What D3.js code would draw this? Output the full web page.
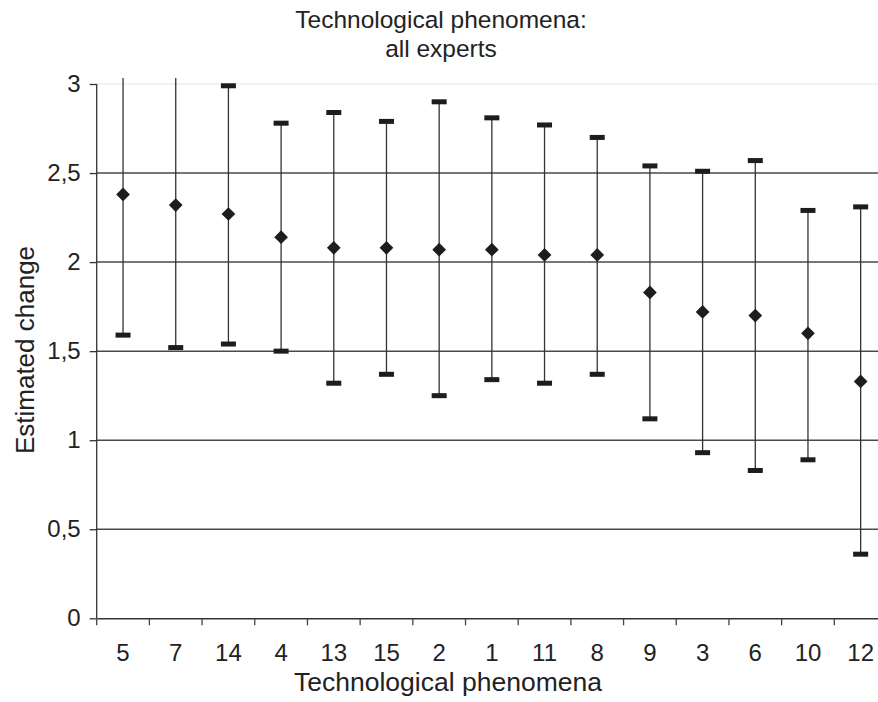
<!DOCTYPE html>
<html>
<head>
<meta charset="utf-8">
<script src="https://cdn.jsdelivr.net/npm/d3@7"></script>
<style>
  html, body { margin: 0; padding: 0; background: #fff; }
  svg { display: block; font-family: "Liberation Sans", Arial, sans-serif; }
</style>
</head>
<body>
<svg id="chart" width="878" height="702"></svg>
<script>
// Technological phenomena, ordered by mean estimated change
const categories = ["5", "7", "14", "4", "13", "15", "2", "1", "11", "8", "9", "3", "6", "10", "12"];
const meanValues  = [2.38, 2.32, 2.27, 2.14, 2.08, 2.08, 2.07, 2.07, 2.04, 2.04, 1.83, 1.72, 1.70, 1.60, 1.33];
const upperValues = [3.15, 3.15, 2.99, 2.78, 2.84, 2.79, 2.90, 2.81, 2.77, 2.70, 2.54, 2.51, 2.57, 2.29, 2.31];
const lowerValues = [1.59, 1.52, 1.54, 1.50, 1.32, 1.37, 1.25, 1.34, 1.32, 1.37, 1.12, 0.93, 0.83, 0.89, 0.36];
const yTickValues = [0, 0.5, 1, 1.5, 2, 2.5, 3];

const svg = d3.select("#chart");
const plotLeft = 96.7, plotRight = 887, plotTop = 84, plotBottom = 618.3;

const x = d3.scaleBand().domain(categories).range([plotLeft, plotRight]).padding(0);
const y = d3.scaleLinear().domain([0, 3]).range([plotBottom, plotTop]);
const fmt = v => String(v).replace(".", ",");

// Horizontal gridlines
svg.append("g").selectAll("line")
  .data(yTickValues.filter(v => v > 0))
  .join("line")
  .attr("x1", plotLeft).attr("x2", plotRight)
  .attr("y1", d => y(d)).attr("y2", d => y(d))
  .attr("stroke", d => d === 3 ? "#eeeeee" : "#4a4a4a")
  .attr("stroke-width", 1.5);

// Y axis
const yAxis = svg.append("g")
  .attr("transform", `translate(${plotLeft},0)`)
  .call(d3.axisLeft(y).tickValues(yTickValues).tickFormat(fmt).tickSize(7).tickPadding(9));
yAxis.select(".domain").attr("stroke", "#333").attr("stroke-width", 1.3).attr("d", `M0,${plotTop}V${plotBottom}`);
yAxis.selectAll(".tick line").attr("stroke", "#333").attr("stroke-width", 1.3);
yAxis.selectAll(".tick text").attr("font-size", 24).attr("fill", "#222")
  .attr("font-family", "Liberation Sans, Arial, sans-serif");

// X axis with ticks between categories
const xAxis = svg.append("g")
  .attr("transform", `translate(0,${plotBottom})`)
  .call(d3.axisBottom(x).tickSize(0).tickPadding(26));
xAxis.select(".domain").attr("stroke", "#333").attr("stroke-width", 1.5);
xAxis.selectAll(".tick text").attr("font-size", 24).attr("fill", "#222")
  .attr("font-family", "Liberation Sans, Arial, sans-serif");
svg.append("g").selectAll("line")
  .data(categories)
  .join("line")
  .attr("x1", d => x(d)).attr("x2", d => x(d))
  .attr("y1", plotBottom).attr("y2", plotBottom + 7)
  .attr("stroke", "#444").attr("stroke-width", 1.3);

// Error bars and means, clipped to the plot region
svg.append("clipPath").attr("id", "plotclip")
  .append("rect").attr("x", plotLeft).attr("y", 78).attr("width", plotRight - plotLeft).attr("height", plotBottom - 78);

const rows = categories.map((c, i) => ({ c, mean: meanValues[i], hi: upperValues[i], lo: lowerValues[i] }));
const marks = svg.append("g").attr("clip-path", "url(#plotclip)");
const cx = d => x(d.c) + x.bandwidth() / 2;

marks.selectAll("line.whisker")
  .data(rows).join("line").attr("class", "whisker")
  .attr("x1", cx).attr("x2", cx)
  .attr("y1", d => y(d.hi)).attr("y2", d => y(d.lo))
  .attr("stroke", "#333").attr("stroke-width", 1.3);

const capW = 15, capH = 5;
marks.selectAll("rect.caphi")
  .data(rows.filter(d => d.hi <= 3)).join("rect").attr("class", "caphi")
  .attr("x", d => cx(d) - capW / 2).attr("y", d => y(d.hi) - capH / 2)
  .attr("width", capW).attr("height", capH).attr("fill", "#1e1c1c");
marks.selectAll("rect.caplo")
  .data(rows).join("rect").attr("class", "caplo")
  .attr("x", d => cx(d) - capW / 2).attr("y", d => y(d.lo) - capH / 2)
  .attr("width", capW).attr("height", capH).attr("fill", "#1e1c1c");

const diamond = d3.symbol().type(d3.symbolDiamond2).size(120);
marks.selectAll("path.mean")
  .data(rows).join("path").attr("class", "mean")
  .attr("d", diamond)
  .attr("transform", d => `translate(${cx(d)},${y(d.mean)})`)
  .attr("fill", "#1e1c1c");

// Titles
svg.append("text").attr("x", 441).attr("y", 28).attr("text-anchor", "middle")
  .attr("font-size", 24.5).attr("fill", "#222").text("Technological phenomena:");
svg.append("text").attr("x", 441).attr("y", 57).attr("text-anchor", "middle")
  .attr("font-size", 24.5).attr("fill", "#222").text("all experts");
svg.append("text").attr("x", 448).attr("y", 691).attr("text-anchor", "middle")
  .attr("font-size", 26.5).attr("fill", "#222").text("Technological phenomena");
svg.append("text").attr("transform", "translate(34,350) rotate(-90)").attr("text-anchor", "middle")
  .attr("font-size", 26).attr("fill", "#222").text("Estimated change");
</script>
</body>
</html>
